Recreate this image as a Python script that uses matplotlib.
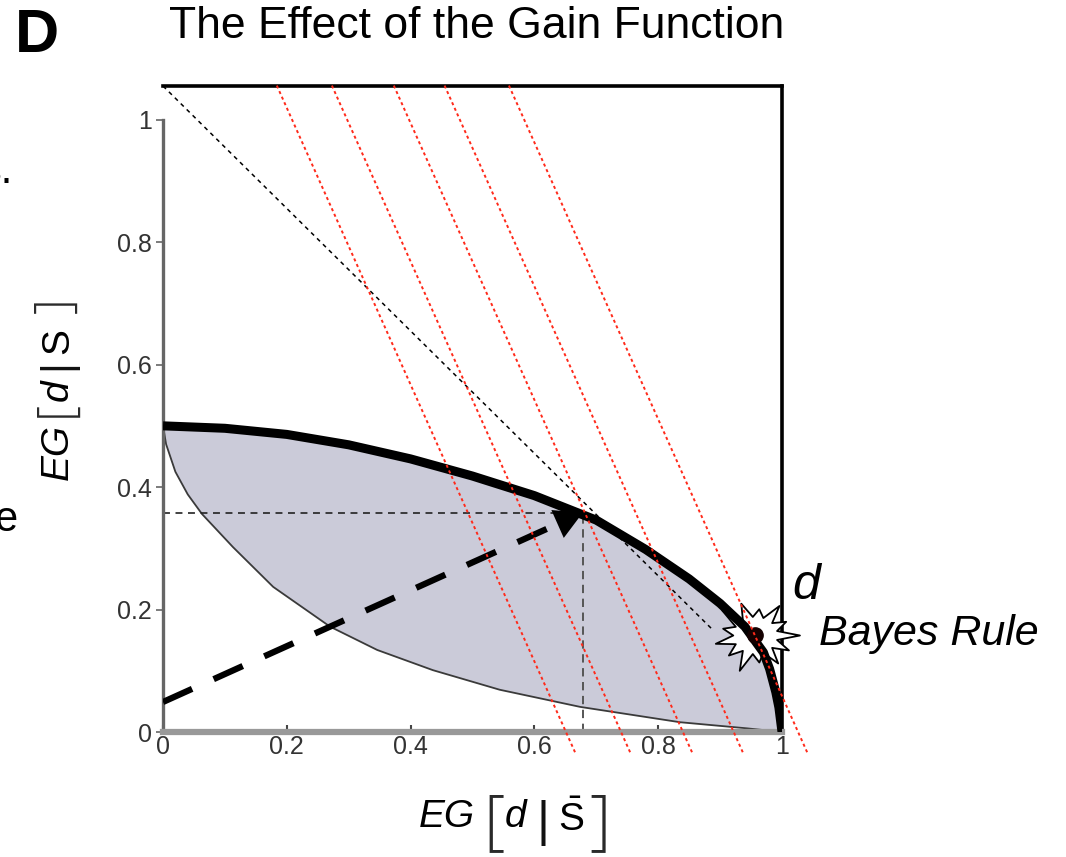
import numpy as np
import matplotlib.pyplot as plt
from matplotlib.path import Path

plt.rcParams['font.family'] = 'Liberation Sans'
plt.rcParams['mathtext.fontset'] = 'custom'
plt.rcParams['mathtext.rm'] = 'Liberation Sans'
plt.rcParams['mathtext.it'] = 'Liberation Sans:italic'
plt.rcParams['lines.scale_dashes'] = False

# Upper boundary of the achievable region (thick curve)
upper_x = [0, 0.1, 0.2, 0.3, 0.4, 0.5, 0.6, 0.7, 0.78, 0.85, 0.9, 0.94, 0.97, 0.98, 0.99, 0.995, 1.0]
upper_y = [0.500, 0.496, 0.486, 0.469, 0.446, 0.418, 0.386, 0.346, 0.298, 0.250, 0.210, 0.172, 0.130, 0.103, 0.065, 0.040, 0.0]

# Lower boundary (thin curve)
lower_x = [0, 0.005, 0.02, 0.04, 0.063, 0.113, 0.178, 0.27, 0.346, 0.436, 0.544, 0.674, 0.835, 0.943, 1.0]
lower_y = [0.5, 0.470, 0.425, 0.388, 0.356, 0.302, 0.237, 0.172, 0.134, 0.101, 0.069, 0.041, 0.016, 0.006, 0.0]

# Iso-gain lines: x-intercepts and common slope
iso_x0 = [0.651, 0.740, 0.840, 0.922, 1.026]
iso_slope = -2.26
iso_ylim = (-0.033, 1.06)

# Equal-weight line
diag_x = [0, 0.89]
diag_y = [1.055, 0.165]

chosen = (0.678, 0.358)      # operating point reached by the arrow
arrow_start = (0.0, 0.049)
bayes = (0.957, 0.158)

ticks = [0, 0.2, 0.4, 0.6, 0.8, 1.0]
tick_labels = ['0', '0.2', '0.4', '0.6', '0.8', '1']

W, H = 1066, 857
fig = plt.figure(figsize=(W / 100, H / 100), dpi=100)
ax = fig.add_axes([163 / W, 125 / H, 619 / W, 646 / H])
ax.set_xlim(0, 1)
ax.set_ylim(0, 1.055)

# shaded region between the two boundaries
poly_x = upper_x + lower_x[::-1]
poly_y = upper_y + lower_y[::-1]
ax.fill(poly_x, poly_y, color='#cbcbd9', lw=0, zorder=1)
ax.plot(lower_x, lower_y, color='#3a3a3a', lw=1.3, zorder=2)

# reference lines
ax.plot(diag_x, diag_y, color='black', lw=1.1, ls=(0, (3, 3)), zorder=2)
ax.plot([0, chosen[0]], [chosen[1], chosen[1]], color='#222222', lw=1.2, ls=(0, (5, 4)), zorder=2)
ax.plot([chosen[0], chosen[0]], [0, chosen[1]], color='#555555', lw=1.4, ls=(0, (6, 4)), zorder=2)

# starburst around the Bayes point
n_spikes = 13
outer = [1.0, 0.78, 0.95, 0.7, 0.9, 1.0, 0.75, 0.92, 0.8, 1.0, 0.72, 0.9, 0.85]
verts = []
for i in range(n_spikes):
    a0 = 2 * np.pi * i / n_spikes
    a1 = 2 * np.pi * (i + 0.5) / n_spikes
    verts.append((outer[i] * np.cos(a0), 0.85 * outer[i] * np.sin(a0)))
    verts.append((0.5 * np.cos(a1), 0.42 * np.sin(a1)))
verts.append(verts[0])
star = Path(verts, [Path.MOVETO] + [Path.LINETO] * (len(verts) - 2) + [Path.CLOSEPOLY])
ax.plot([bayes[0]], [bayes[1]], marker=star, ms=64, mfc='white', mec='black', mew=1.3,
        zorder=3, clip_on=False)

# thick upper boundary
ax.plot(upper_x, upper_y, color='black', lw=6.5, solid_capstyle='butt', zorder=4)

# thick dashed arrow
ax.plot([arrow_start[0], chosen[0] - 0.02], [arrow_start[1], chosen[1] - 0.009],
        color='black', lw=4.5, ls=(0, (23, 17)), solid_capstyle='butt', zorder=5)
ax.annotate('', xy=chosen, xytext=(chosen[0] - 0.04, chosen[1] - 0.018),
            arrowprops=dict(arrowstyle='-|>,head_length=0.9,head_width=0.5',
                            mutation_scale=22, color='black', lw=0,
                            shrinkA=0, shrinkB=0), zorder=6)

# iso-gain lines
for x0 in iso_x0:
    ys = np.array(iso_ylim)
    xs = x0 + ys / iso_slope
    ax.plot(xs, ys, color='#ff2a1a', lw=1.4, ls=(0, (2.2, 2.2)), zorder=7, clip_on=False)

ax.plot([bayes[0]], [bayes[1]], 'o', color='#140000', ms=11, zorder=6)

ax.text(1.039, 0.238, 'd', fontsize=36, style='italic', ha='center', va='center')
ax.text(1.060, 0.160, 'Bayes Rule', fontsize=31, style='italic', ha='left', va='center')

# axes styling
for side in ['top', 'right']:
    ax.spines[side].set_color('black')
    ax.spines[side].set_linewidth(2.6)
ax.spines['left'].set_color('#666666')
ax.spines['left'].set_linewidth(2.4)
ax.spines['left'].set_bounds(0, 1)
ax.spines['bottom'].set_color('#999999')
ax.spines['bottom'].set_linewidth(4.5)

ax.set_xticks(ticks)
ax.set_xticklabels(tick_labels)
ax.set_yticks(ticks)
ax.set_yticklabels(tick_labels)
ax.tick_params(axis='x', direction='in', length=5, width=1.5, color='#444444',
               labelsize=18, labelcolor='#333333', pad=2)
ax.tick_params(axis='y', direction='out', length=5, width=1.2, color='#666666',
               labelsize=18, labelcolor='#333333', pad=3)


def ftext(px, py, s, **kw):
    # place text at figure pixel position (origin top-left)
    return fig.text(px / W, 1 - py / H, s, **kw)


bracket = dict(family=['Open Sans', 'Lato', 'Liberation Sans'], fontweight='light',
               color='#2a2a2a')

# x-axis label: EG[d | S-bar] with tall brackets
ftext(447, 827, 'EG', fontsize=28, style='italic', ha='center', va='baseline')
ftext(494, 842, '[', fontsize=48, ha='center', va='baseline', **bracket)
ftext(515, 827, 'd', fontsize=28, style='italic', ha='center', va='baseline')
ftext(543, 836, '|', fontsize=36, ha='center', va='baseline', color='#111111')
ftext(571, 831, r'$\bar{\mathrm{S}}$', fontsize=28, ha='center', va='baseline')
ftext(600, 842, ']', fontsize=48, ha='center', va='baseline', **bracket)

# y-axis label: EG[d | S], rotated
rot = dict(rotation=90, rotation_mode='anchor', ha='center')
ftext(68, 452, 'EG', fontsize=28, style='italic', va='baseline', **rot)
ftext(70, 409, '[', fontsize=36, va='baseline', **rot, **bracket)
ftext(68, 390, 'd', fontsize=28, style='italic', va='baseline', **rot)
ftext(68, 365, '|', fontsize=30, va='baseline', color='#111111', **rot)
ftext(68, 341, 'S', fontsize=28, va='baseline', **rot)
ftext(70, 305, ']', fontsize=36, va='baseline', **rot, **bracket)

ftext(477, 26, 'The Effect of the Gain Function', fontsize=32, ha='center', va='center')
ftext(37, 36, 'D', fontsize=44, fontweight='bold', ha='center', va='center')
# clipped text from the neighbouring panel
ftext(13, 172, 's.', fontsize=30, ha='right', va='center')
ftext(17, 520, 'e', fontsize=30, ha='right', va='center')

fig.savefig('out.png', dpi=100)
